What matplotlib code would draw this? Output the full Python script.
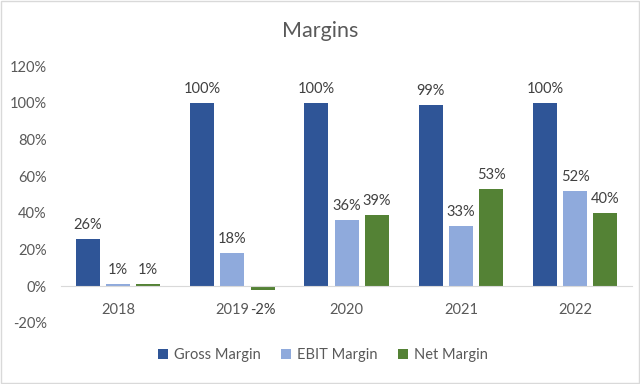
import matplotlib.pyplot as plt
import numpy as np
from matplotlib.patches import Rectangle

plt.rcParams['font.family'] = ['Lato', 'DejaVu Sans']

years = ['2018', '2019', '2020', '2021', '2022']
gross = [26, 100, 100, 99, 100]
ebit = [1, 18, 36, 33, 52]
net = [1, -2, 39, 53, 40]

series = [('Gross Margin', gross, '#2F5597'),
          ('EBIT Margin', ebit, '#8FAADC'),
          ('Net Margin', net, '#548235')]

txt = '#595959'
fig = plt.figure(figsize=(6.4, 3.84), dpi=100)
ax = fig.add_axes([0.095, 0.159, 0.893, 0.669])

x = np.arange(len(years))
width = 0.21
step = 0.265
for i, (name, vals, col) in enumerate(series):
    pos = x + (i - 1) * step
    bars = ax.bar(pos, vals, width, color=col, label=name)
    for b, v in zip(bars, vals):
        if v >= 0:
            ax.annotate(f'{v}%', (b.get_x() + b.get_width() / 2, v),
                        xytext=(0, 5), textcoords='offset points',
                        ha='center', va='bottom', fontsize=10.5, color='#404040')
        else:
            ax.annotate(f'{v}%', (b.get_x() + b.get_width() / 2, 0),
                        xytext=(0, -17), textcoords='offset points',
                        ha='center', va='center', fontsize=10.5, color='#404040')

ax.set_xlim(-0.5, len(years) - 0.5)
ax.set_ylim(-20, 120)
ax.set_yticks(range(-20, 121, 20))
ax.set_yticklabels([f'{t}%' for t in range(-20, 121, 20)])
ax.set_xticks(x)
ax.set_xticklabels(years)
ax.tick_params(axis='both', length=0, labelsize=10.5, colors=txt)
ax.tick_params(axis='x', pad=12)
ax.tick_params(axis='y', pad=10)
for s in ['top', 'right', 'left']:
    ax.spines[s].set_visible(False)
ax.spines['bottom'].set_position(('data', 0))
ax.spines['bottom'].set_color('#d9d9d9')

fig.text(0.5, 0.92, 'Margins', ha='center', va='center', fontsize=15.5, color=txt)
fig.legend(loc='center', bbox_to_anchor=(0.504, 0.075), ncol=3, frameon=False,
           fontsize=10.5, labelcolor=txt, handlelength=0.7, handleheight=0.7,
           columnspacing=1.4, handletextpad=0.4)

fig.patches.append(Rectangle((0.002, 0.003), 0.996, 0.994, transform=fig.transFigure,
                             fill=False, edgecolor='#d9d9d9', linewidth=1))

fig.savefig('out.png', dpi=100)
